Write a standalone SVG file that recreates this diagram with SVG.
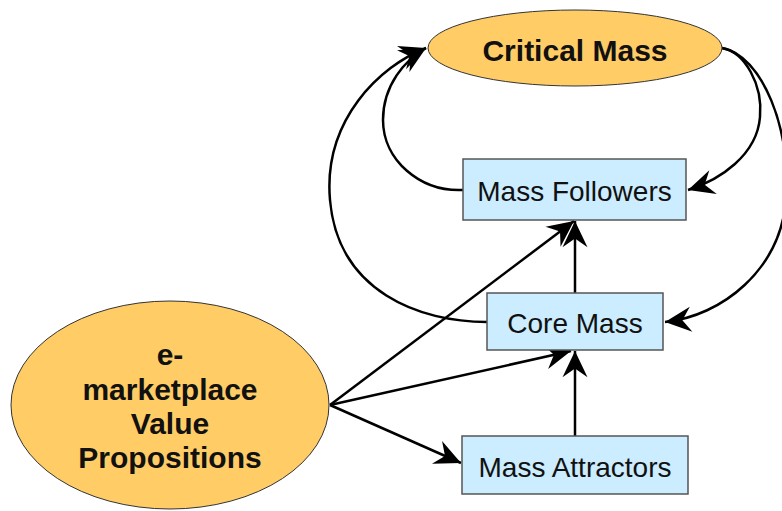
<svg xmlns="http://www.w3.org/2000/svg" width="782" height="511" viewBox="0 0 782 511">
  <style>
    .oval { fill: #FFCC66; stroke: #333333; stroke-width: 1; }
    .box { fill: #CCECFF; stroke: #555555; stroke-width: 1.5; }
    .lbl { font-family: "Liberation Sans", Arial, sans-serif; font-size: 28px; fill: #111111; text-anchor: middle; }
    .bold { font-weight: bold; font-size: 30px; }
    .link { fill: none; stroke: #000000; stroke-width: 2.5; marker-end: url(#barb); }
  </style>
  <defs>
    <marker id="barb" markerUnits="userSpaceOnUse" markerWidth="30" markerHeight="30" viewBox="-22 -12 24 24" refX="0" refY="0" orient="auto">
      <path d="M0,0 L-21,-10 L-14,0 L-21,10 Z" fill="#000000"/>
    </marker>
  </defs>

  <rect width="782" height="511" fill="#FFFFFF"/>

  <g id="connectors">
    <!-- feedback loops into Critical Mass -->
    <path class="link" d="M463,190 C420,192 383,160 383,120 C383,85 405,60 426,48"/>
    <path class="link" d="M487,322 C420,322 338,292 330,200 C323,120 380,66 426,48"/>
    <!-- Critical Mass back down to followers and core -->
    <path class="link" d="M722,48 C745,52 763,85 760,117 C757,155 720,180 688,190"/>
    <path class="link" d="M722,48 C762,55 792,130 786,200 C780,270 722,316 665,322"/>
    <!-- value propositions fan out -->
    <path class="link" d="M330,405 L574,221"/>
    <path class="link" d="M330,405 L571,351"/>
    <path class="link" d="M330,405 L461,463"/>
    <!-- upward flow -->
    <path class="link" d="M575,293 L575,221"/>
    <path class="link" d="M575,436 L575,351"/>
  </g>

  <g id="critical-mass">
    <ellipse class="oval" cx="575" cy="48" rx="147" ry="38"/>
    <text class="lbl bold" x="575" y="61">Critical Mass</text>
  </g>

  <g id="mass-followers">
    <rect class="box" x="463" y="159" width="223" height="61"/>
    <text class="lbl" x="574.5" y="201">Mass Followers</text>
  </g>

  <g id="core-mass">
    <rect class="box" x="487" y="293" width="176" height="57"/>
    <text class="lbl" x="575" y="333">Core Mass</text>
  </g>

  <g id="mass-attractors">
    <rect class="box" x="462" y="436" width="226" height="58"/>
    <text class="lbl" x="575" y="477">Mass Attractors</text>
  </g>

  <g id="value-propositions">
    <ellipse class="oval" cx="170" cy="405" rx="159" ry="104"/>
    <text class="lbl bold" x="170" y="365">e-</text>
    <text class="lbl bold" x="170" y="400">marketplace</text>
    <text class="lbl bold" x="170" y="434">Value</text>
    <text class="lbl bold" x="170" y="468">Propositions</text>
  </g>
</svg>
